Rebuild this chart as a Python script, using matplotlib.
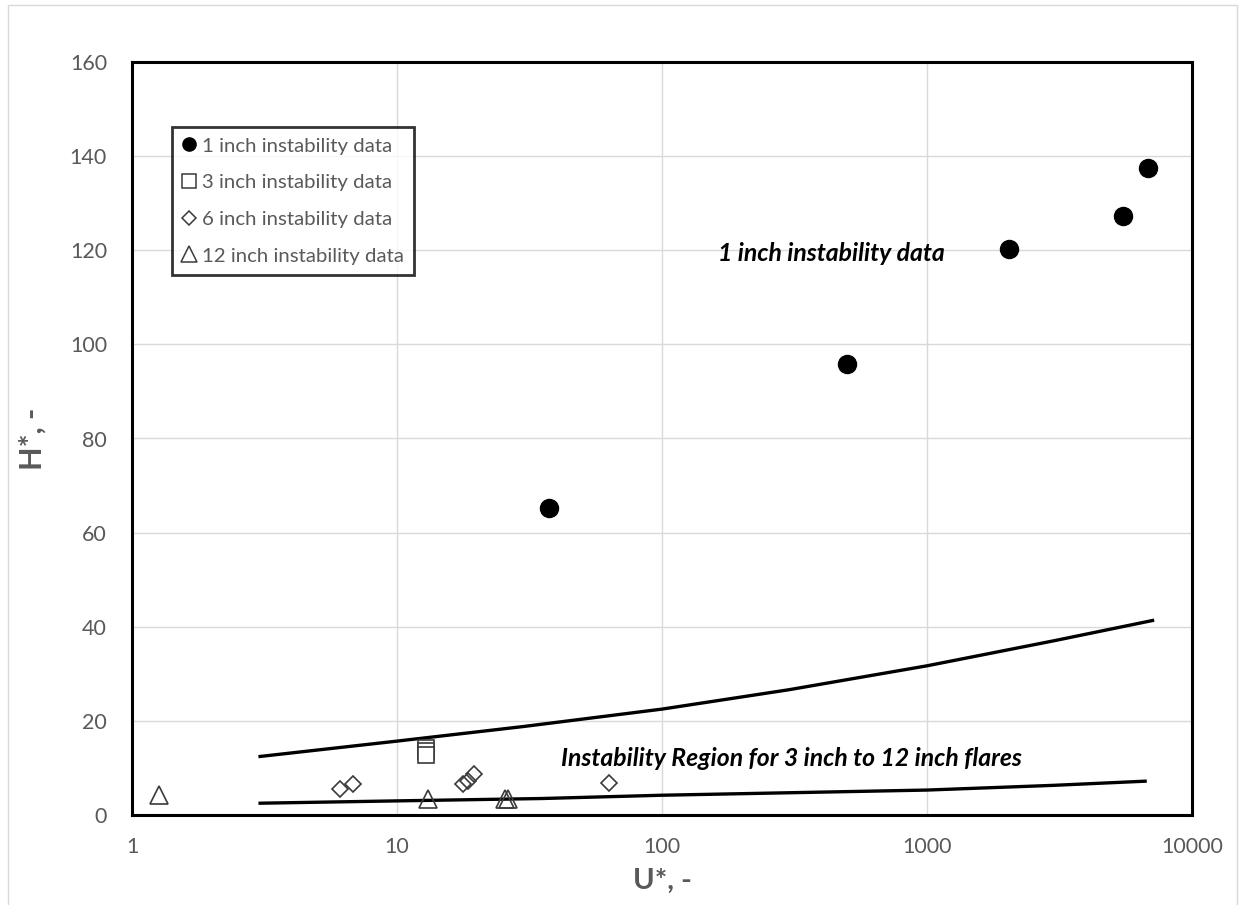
import matplotlib
matplotlib.use("Agg")
import matplotlib.pyplot as plt
from matplotlib.lines import Line2D
from matplotlib.patches import Rectangle

# Instability data (U*, H*) for each flare size
u_1in = [37.5, 499, 2040, 5470, 6810]
h_1in = [65.3, 95.8, 120.3, 127.2, 137.4]

u_3in = [12.9, 12.9, 12.9]
h_3in = [14.2, 13.5, 12.8]

u_6in = [6.1, 6.8, 17.8, 18.5, 19.5, 63.2]
h_6in = [5.5, 6.5, 6.6, 7.3, 8.7, 6.7]

u_12in = [1.26, 13.1, 25.6, 26.3]
h_12in = [4.3, 3.5, 3.5, 3.5]

# Boundaries of the instability region for 3 to 12 inch flares
u_upper = [3, 10, 30, 100, 300, 1000, 3000, 7200]
h_upper = [12.4, 15.7, 18.8, 22.5, 26.6, 31.7, 37.0, 41.4]
u_lower = [3, 10, 35, 100, 1000, 3000, 6750]
h_lower = [2.5, 3.0, 3.5, 4.2, 5.3, 6.3, 7.2]

x_ticks = [1, 10, 100, 1000, 10000]
x_ticklabels = ["1", "10", "100", "1000", "10000"]
y_ticks = [0, 20, 40, 60, 80, 100, 120, 140, 160]

series_labels = ["1 inch instability data", "3 inch instability data",
                 "6 inch instability data", "12 inch instability data"]

plt.rcParams['font.family'] = ['Lato', 'DejaVu Sans']
GRAY_TXT = "#595959"
EDGE = "#3a3a3a"

fig = plt.figure(figsize=(12.45, 9.05), dpi=100)
ax = fig.add_axes([132 / 1245, 1 - 815 / 905, (1192 - 132) / 1245, (815 - 62) / 905])

# chart-area border
fig.patches.append(Rectangle((8 / 1245, -0.01), (1237 - 8) / 1245, 1 - 5 / 905 + 0.01,
                             transform=fig.transFigure, fill=False,
                             edgecolor="#d9d9d9", linewidth=1.0))

ax.plot(u_upper, h_upper, color="black", lw=2.4, solid_capstyle="butt", zorder=3)
ax.plot(u_lower, h_lower, color="black", lw=2.4, solid_capstyle="butt", zorder=3)

ax.plot(u_1in, h_1in, "o", ms=13, color="black", mec="black", zorder=4)
ax.plot(u_3in, h_3in, "s", ms=11, mfc="white", mec=EDGE, mew=1.2, zorder=4)
ax.plot(u_6in, h_6in, "D", ms=8.6, mfc="none", mec=EDGE, mew=1.2, zorder=4)
ax.plot(u_12in, h_12in, "^", ms=13, mfc="none", mec=EDGE, mew=1.2, zorder=4)

ax.set_xscale("log")
ax.set_xlim(1, 10000)
ax.set_ylim(0, 160)
ax.set_xticks(x_ticks)
ax.set_xticklabels(x_ticklabels)
ax.minorticks_off()
ax.set_yticks(y_ticks)
ax.tick_params(axis="both", length=0, labelsize=15.5, labelcolor=GRAY_TXT)
ax.tick_params(axis="x", pad=16)
ax.tick_params(axis="y", pad=18)
ax.grid(True, which="major", color="#d9d9d9", lw=1.0)
ax.set_axisbelow(True)
for s in ax.spines.values():
    s.set_color("black")
    s.set_linewidth(2.2)

ax.set_xlabel("U*, -", fontsize=21, fontweight="bold", color=GRAY_TXT, labelpad=8)
ax.set_ylabel("H*, -", fontsize=22, fontweight="bold", color=GRAY_TXT, labelpad=17)

ax.text(163, 119.4, "1 inch instability data", fontsize=17.8, fontweight="bold",
        fontstyle="italic", color="black", ha="left", va="center")
ax.text(41.6, 12.0, "Instability Region for 3 inch to 12 inch flares", fontsize=17.8,
        fontweight="bold", fontstyle="italic", color="black", ha="left", va="center")

handles = [
    Line2D([], [], ls="none", marker="o", ms=9.5, color="black"),
    Line2D([], [], ls="none", marker="s", ms=9.5, mfc="white", mec=EDGE, mew=1.1),
    Line2D([], [], ls="none", marker="D", ms=7.5, mfc="none", mec=EDGE, mew=1.1),
    Line2D([], [], ls="none", marker="^", ms=11, mfc="none", mec=EDGE, mew=1.1),
]
leg = ax.legend(handles, series_labels, loc="upper left",
                bbox_to_anchor=((172 - 132) / 1060, 1 - (127 - 62) / 753),
                fontsize=14.7, labelcolor=GRAY_TXT, frameon=True, fancybox=False,
                handlelength=0.7, handletextpad=0.25, borderpad=0.5,
                labelspacing=0.95, borderaxespad=0)
leg.get_frame().set_edgecolor("black")
leg.get_frame().set_linewidth(2.0)

fig.savefig("out.png", dpi=100)
